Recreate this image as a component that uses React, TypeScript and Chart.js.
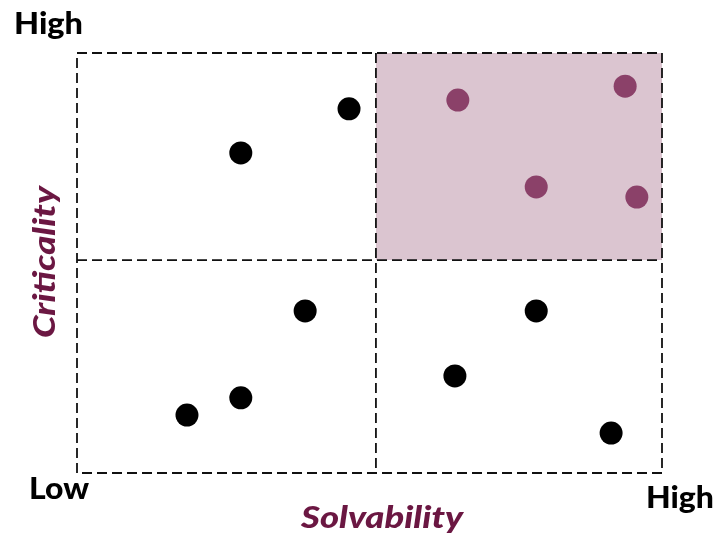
import React, { useEffect, useRef } from "react";
import { Chart, registerables } from "chart.js";

Chart.register(...registerables);

// Data (scale 0..10 on both axes)
const otherX = [4.65, 2.8, 3.9, 2.8, 1.88, 7.85, 6.46, 9.13];
const otherY = [8.67, 7.62, 3.86, 1.79, 1.38, 3.86, 2.31, 0.95];
const focusX = [6.51, 9.37, 7.85, 9.57];
const focusY = [8.88, 9.21, 6.81, 6.57];
const axisMin = 0;
const axisMax = 10;
const xSplit = 5.11;
const ySplit = 5.07;
const xTitle = "Solvability";
const yTitle = "Criticality";
const lowLabel = "Low";
const highLabel = "High";

const FONT = "Lato, 'Open Sans', sans-serif";

function fitText(ctx: any, text: string, left: number, baseline: number, width: number) {
  const w = ctx.measureText(text).width;
  const sx = width / w;
  ctx.save();
  ctx.translate(left, baseline);
  ctx.scale(sx, 1);
  ctx.textAlign = "left";
  ctx.textBaseline = "alphabetic";
  ctx.fillText(text, 0, 0);
  ctx.restore();
}

const quadrantPlugin = {
  id: "quadrants",
  beforeDatasetsDraw(chart: any) {
    const { ctx, scales } = chart;
    const x = scales.x;
    const y = scales.y;
    const L = x.getPixelForValue(axisMin);
    const R = x.getPixelForValue(axisMax);
    const T = y.getPixelForValue(axisMax);
    const B = y.getPixelForValue(axisMin);
    const mx = x.getPixelForValue(xSplit);
    const my = y.getPixelForValue(ySplit);
    ctx.save();
    ctx.fillStyle = "#dbc5d0";
    ctx.fillRect(mx, T, R - mx, my - T);
    ctx.strokeStyle = "#111111";
    ctx.lineWidth = 1.8;
    ctx.setLineDash([10, 5]);
    ctx.beginPath();
    ctx.rect(L, T, R - L, B - T);
    ctx.moveTo(mx, T);
    ctx.lineTo(mx, B);
    ctx.moveTo(L, my);
    ctx.lineTo(R, my);
    ctx.stroke();
    ctx.restore();
  },
  afterDraw(chart: any) {
    const { ctx } = chart;
    ctx.save();
    ctx.fillStyle = "#000";
    ctx.font = `900 31px ${FONT}`;
    fitText(ctx, highLabel, 14, 34, 69);
    fitText(ctx, lowLabel, 29, 499, 60);
    fitText(ctx, highLabel, 646, 508, 68);
    ctx.fillStyle = "#6b1742";
    ctx.font = `italic 900 31px ${FONT}`;
    fitText(ctx, xTitle, 301, 528, 162);
    ctx.save();
    ctx.translate(55, 338);
    ctx.rotate(-Math.PI / 2);
    fitText(ctx, yTitle, 0, 0, 152);
    ctx.restore();
    ctx.restore();
  },
};

export default function App() {
  const ref = useRef<HTMLCanvasElement>(null);
  useEffect(() => {
    if (!ref.current) return;
    const chart = new Chart(ref.current, {
      type: "scatter",
      data: {
        datasets: [
          {
            label: "Other",
            data: otherX.map((v, i) => ({ x: v, y: otherY[i] })),
            backgroundColor: "#000000",
            borderColor: "#000000",
            pointRadius: 11.5,
            borderWidth: 0,
            clip: false as any,
          },
          {
            label: "Focus",
            data: focusX.map((v, i) => ({ x: v, y: focusY[i] })),
            backgroundColor: "#8b4169",
            borderColor: "#8b4169",
            pointRadius: 11.5,
            borderWidth: 0,
            clip: false as any,
          },
        ],
      },
      options: {
        responsive: false,
        animation: false,
        layout: { padding: { left: 77, top: 53, right: 55, bottom: 63 } },
        plugins: {
          legend: { display: false },
          tooltip: { enabled: false },
        },
        scales: {
          x: { type: "linear", min: axisMin, max: axisMax, display: false },
          y: { type: "linear", min: axisMin, max: axisMax, display: false },
        },
      },
      plugins: [quadrantPlugin],
    });
    return () => chart.destroy();
  }, []);
  return (
    <div style={{ position: "absolute", left: 0, top: 0, width: 717, height: 536, background: "#fff" }}>
      <canvas ref={ref} width={717} height={536} />
    </div>
  );
}
